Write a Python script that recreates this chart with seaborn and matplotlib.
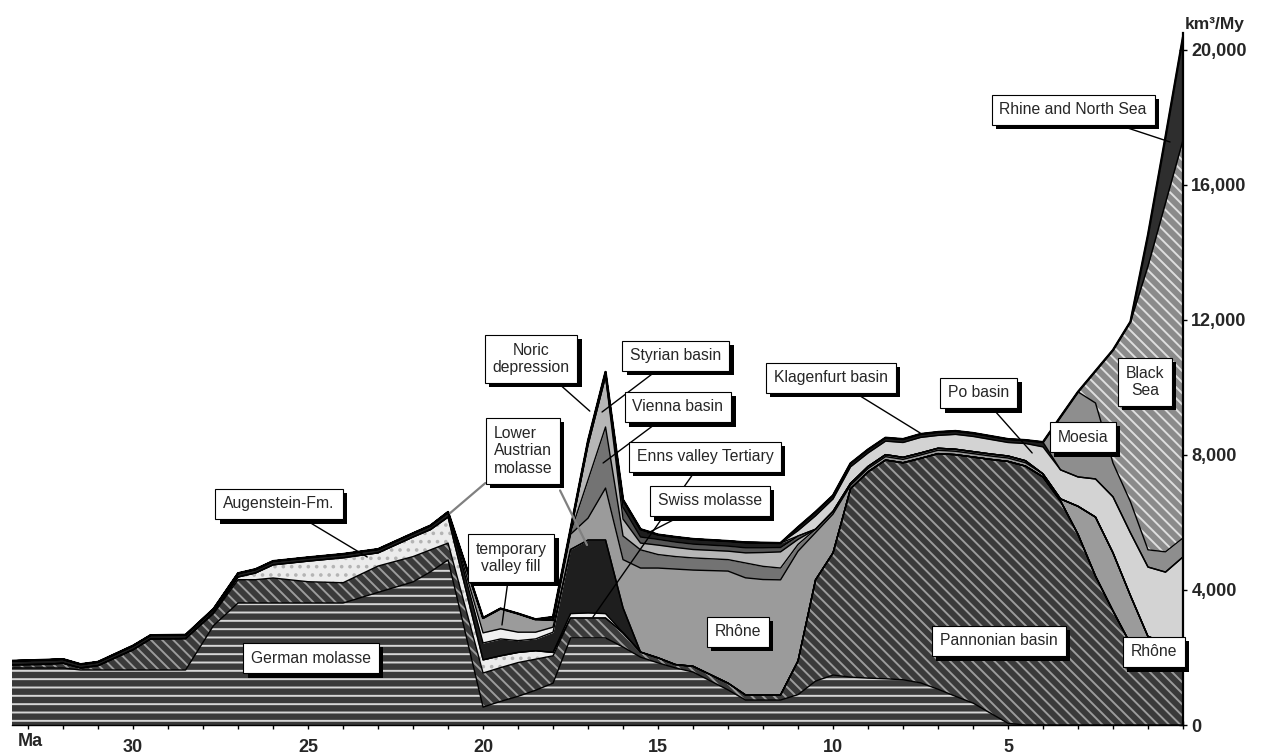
import matplotlib
matplotlib.use("Agg")
import matplotlib.pyplot as plt
import matplotlib.patheffects as pe
import matplotlib.ticker as ticker
import numpy as np
import pandas as pd
import seaborn as sns

# age grid (Ma), oldest first
ages = [33.5, 32.5, 32.0, 31.5, 31.0, 30.0, 29.5, 28.5, 27.7, 27.0,
        26.5, 26.0, 25.0, 24.0, 23.0, 22.0, 21.5, 21.0, 20.0, 19.5,
        19.0, 18.5, 18.0, 17.5, 17.0, 16.5, 16.0, 15.5, 15.0, 14.5,
        14.0, 13.0, 12.5, 12.0, 11.5, 11.0, 10.5, 10.0, 9.5, 9.0,
        8.5, 8.0, 7.5, 7.0, 6.5, 6.0, 5.5, 5.0, 4.5, 4.0,
        3.5, 3.0, 2.5, 2.0, 1.5, 1.0, 0.5, 0.0]

# sediment budget per basin (km3/My), stacked bottom -> top
german = [1690, 1690, 1690, 1630, 1630, 1630, 1630, 1630, 2950, 3615,
          3615, 3615, 3615, 3615, 3930, 4240, 4540, 4890, 530, 700,
          850, 1030, 1240, 2580, 2580, 2580, 2310, 2010, 1840, 1690,
          1570, 1040, 740, 740, 740, 900, 1300, 1480, 1420, 1390,
          1370, 1340, 1250, 1060, 850, 650, 350, 50, 0, 0,
          0, 0, 0, 0, 0, 0, 0, 0]
pannonian = [90, 110, 140, 60, 130, 600, 920, 930, 350, 690,
             690, 740, 630, 600, 780, 750, 650, 500, 1010, 1000,
             1000, 920, 810, 590, 590, 590, 420, 150, 150, 100,
             170, 200, 150, 150, 150, 1000, 3000, 3620, 5580, 6110,
             6480, 6430, 6650, 6980, 7160, 7290, 7520, 7760, 7670, 7350,
             6640, 5650, 4410, 3380, 2400, 1930, 1800, 1800]
augenstein = [0, 0, 0, 0, 0, 0, 0, 0, 30, 80,
              200, 390, 610, 740, 390, 580, 600, 770, 390, 350,
              300, 250, 100, 0, 0, 0, 0, 0, 0, 0,
              0, 0, 0, 0, 0, 0, 0, 0, 0, 0,
              0, 0, 0, 0, 0, 0, 0, 0, 0, 0,
              0, 0, 0, 0, 0, 0, 0, 0]
enns = [0] * 23 + [130, 150, 130] + [0] * 32
lower_austrian = [120, 130, 120, 110, 110, 120, 110, 110, 110, 110,
                  110, 110, 110, 110, 110, 110, 120, 150, 500, 500,
                  350, 350, 600, 1900, 2160, 2180, 740, 0, 0, 0,
                  0, 0, 0, 0, 0, 0, 0, 0, 0, 0,
                  0, 0, 0, 0, 0, 0, 0, 0, 0, 0,
                  0, 0, 0, 0, 0, 0, 0, 0]
temporary = [0] * 18 + [300, 300, 250, 200, 150] + [0] * 35
rhone = [0, 0, 0, 0, 0, 0, 0, 0, 0, 0,
         0, 0, 0, 0, 0, 0, 0, 0, 440, 600,
         550, 380, 200, 450, 650, 1540, 1430, 2490, 2660, 2830,
         2850, 3320, 3470, 3420, 3410, 3250, 1400, 1150, 100, 100,
         100, 100, 100, 100, 100, 100, 100, 100, 100, 90,
         60, 830, 1750, 1720, 1430, 690, 650, 600]
vienna = [0] * 23 + [50, 1130, 1810, 700, 540, 400, 370,
                     360, 340, 440, 390, 350, 200, 100, 80, 60, 60,
                     60, 60, 60, 60, 60, 60, 60, 60, 60] + [0] * 9
styrian = [0] * 23 + [20, 1040, 1500, 500, 200, 280, 270,
                      250, 250, 300, 410, 480, 150] + [0] * 22
swiss = [0] * 26 + [350, 180, 170, 160, 160, 150, 150, 140, 130, 100] + [0] * 22
noric = [0] * 22 + [100, 80, 120, 130, 220, 230, 140, 150,
                    150, 150, 160, 150, 130] + [0] * 23
po = [0] * 35 + [160, 400, 370, 490, 400, 400, 440, 460, 380, 440,
                 450, 430, 400, 510, 800, 860, 870, 1130, 1660, 1860,
                 2060, 2080, 2580]
klagenfurt = [0] * 35 + [100, 110, 100, 100, 100, 100, 100, 100, 100, 100,
                         100, 100, 100, 100, 140] + [0] * 8
moesia = [0] * 50 + [1570, 2520, 2250, 1000, 920, 510, 600, 560]
black_sea = [0] * 51 + [0, 950, 3350, 5340, 8410, 10340, 11790]
rhine = [0] * 55 + [920, 1950, 3055]

series = {
    "German molasse": german, "Pannonian basin": pannonian,
    "Augenstein-Fm.": augenstein, "Enns valley Tertiary": enns,
    "Lower Austrian molasse": lower_austrian, "temporary valley fill": temporary,
    "Rhône": rhone, "Vienna basin": vienna, "Styrian basin": styrian,
    "Swiss molasse": swiss, "Noric depression": noric, "Po basin": po,
    "Klagenfurt basin": klagenfurt, "Moesia": moesia, "Black Sea": black_sea,
    "Rhine and North Sea": rhine,
}

# face colour, hatch, hatch colour
styles = {
    "German molasse": ("#3a3a3a", "--", "#d6d6d6"),
    "Pannonian basin": ("#3a3a3a", "\\\\\\", "#9c9c9c"),
    "Augenstein-Fm.": ("#ececec", "..", "#b4b4b4"),
    "Enns valley Tertiary": ("#f2f2f2", None, None),
    "Lower Austrian molasse": ("#1e1e1e", None, None),
    "temporary valley fill": ("#f0f0f0", None, None),
    "Rhône": ("#9b9b9b", None, None),
    "Vienna basin": ("#737373", None, None),
    "Styrian basin": ("#b6b6b6", None, None),
    "Swiss molasse": ("#555555", None, None),
    "Noric depression": ("#1e1e1e", None, None),
    "Po basin": ("#d3d3d3", None, None),
    "Klagenfurt basin": ("#1e1e1e", None, None),
    "Moesia": ("#8e8e8e", None, None),
    "Black Sea": ("#8a8a8a", "\\\\\\", "#dedede"),
    "Rhine and North Sea": ("#2e2e2e", None, None),
}

sns.set_theme(style="white")
plt.rcParams["font.family"] = ["Liberation Sans", "DejaVu Sans"]
plt.rcParams["hatch.linewidth"] = 1.4

W, H = 1267, 754
fig = plt.figure(figsize=(W / 100, H / 100), dpi=100)
ax = fig.add_axes([12 / W, 29 / H, 1171 / W, (725 - 33.1) / H])

x = np.array(ages)
bottom = np.zeros(len(x))
rows = []
for name, vals in series.items():
    top = bottom + np.array(vals, dtype=float)
    fc, hatch, hc = styles[name]
    ax.fill_between(x, bottom, top, facecolor=fc, edgecolor=hc if hc else fc,
                    hatch=hatch, linewidth=0, zorder=1)
    for a, t in zip(ages, top):
        rows.append({"age": a, "top": t, "layer": name})
    bottom = top

lines = pd.DataFrame(rows)
sns.lineplot(data=lines, x="age", y="top", units="layer", estimator=None,
             sort=False, color="black", linewidth=1.0, legend=False, ax=ax, zorder=2)
ax.plot(x, bottom, color="black", linewidth=1.7, zorder=3)

ax.set_xlim(33.46, 0)
ax.set_ylim(0, 20500)
ax.set_xlabel("")
ax.set_ylabel("")

for s in ["left", "top"]:
    ax.spines[s].set_visible(False)
ax.spines["right"].set_linewidth(1.6)
ax.spines["bottom"].set_linewidth(1.0)
ax.spines["right"].set_color("black")
ax.spines["bottom"].set_color("black")

ax.set_xticks([30, 25, 20, 15, 10, 5])
ax.set_xticks(range(0, 34), minor=True)
ax.tick_params(axis="x", which="both", direction="inout", length=6, width=1,
               color="black", bottom=True)
ax.tick_params(axis="x", which="major", labelsize=13, pad=7)
for lab in ax.get_xticklabels():
    lab.set_fontweight("bold")

ax.yaxis.tick_right()
ax.set_yticks(range(0, 20001, 4000))
ax.yaxis.set_major_formatter(ticker.FuncFormatter(lambda v, p: f"{int(v):,}"))
ax.tick_params(axis="y", which="major", direction="inout", length=6, width=1,
               color="black", labelsize=13, pad=3, right=True, left=False)
for lab in ax.get_yticklabels():
    lab.set_fontweight("bold")

fig.text(30 / W, 1 - 741 / H, "Ma", fontsize=13, fontweight="bold",
         ha="center", va="center")
fig.text(1215 / W, 1 - 24 / H, "km³/My", fontsize=12.5, fontweight="bold",
         ha="center", va="center")

# label boxes: text, box centre (age, value), pointer end or None, align, pointer colour
labels = [
    ("German molasse", (24.91, 1985), None, "center", "black"),
    ("Augenstein-Fm.", (25.83, 6548), (23.31, 4978), "center", "black"),
    ("Lower\nAustrian\nmolasse", (18.86, 8119), (20.94, 6280), "left", "#808080"),
    ("temporary\nvalley fill", (19.2, 4948), (19.46, 2963), "center", "black"),
    ("Noric\ndepression", (18.63, 10845), (16.95, 9300), "center", "black"),
    ("Styrian basin", (14.49, 10934), (16.6, 9274), "center", "black"),
    ("Vienna basin", (14.43, 9422), (16.57, 7763), "center", "black"),
    ("Enns valley Tertiary", (13.66, 7941), (16.86, 3200), "center", "black"),
    ("Swiss molasse", (13.51, 6637), (15.29, 5689), "center", "black"),
    ("Rhône", (12.71, 2756), None, "center", "black"),
    ("Klagenfurt basin", (10.06, 10282), (7.51, 8652), "center", "black"),
    ("Po basin", (5.83, 9837), (4.31, 8060), "center", "black"),
    ("Moesia", (2.86, 8533), None, "center", "black"),
    ("Black\nSea", (1.09, 10163), None, "center", "black"),
    ("Rhine and North Sea", (3.14, 18222), (0.37, 17274), "center", "black"),
    ("Pannonian basin", (5.26, 2489), None, "center", "black"),
    ("Rhône", (0.83, 2163), None, "center", "black"),
]

box = dict(boxstyle="square,pad=0.5", fc="white", ec="black", lw=0.8)
shadow = [pe.SimplePatchShadow(offset=(3, -3), shadow_rgbFace="black", alpha=1.0),
          pe.Normal()]
for text, pos, end, align, pcol in labels:
    if end is None:
        t = ax.text(pos[0], pos[1], text, ha="center", va="center", fontsize=11.3,
                    multialignment=align, linespacing=1.2, bbox=box, zorder=6)
    else:
        t = ax.annotate(text, xy=end, xytext=pos, ha="center", va="center",
                        fontsize=11.3, multialignment=align, linespacing=1.2,
                        bbox=box, zorder=6,
                        arrowprops=dict(arrowstyle="-", color=pcol,
                                        lw=1.6 if pcol != "black" else 1.0,
                                        shrinkA=0, shrinkB=0))
    t.get_bbox_patch().set_path_effects(shadow)

# second pointer of the Lower Austrian molasse box
ax.annotate("", xy=(17.03, 5333), xytext=(17.8, 6950),
            arrowprops=dict(arrowstyle="-", color="#808080", lw=1.6,
                            shrinkA=0, shrinkB=0), zorder=5)

fig.savefig("out.png", dpi=100)
